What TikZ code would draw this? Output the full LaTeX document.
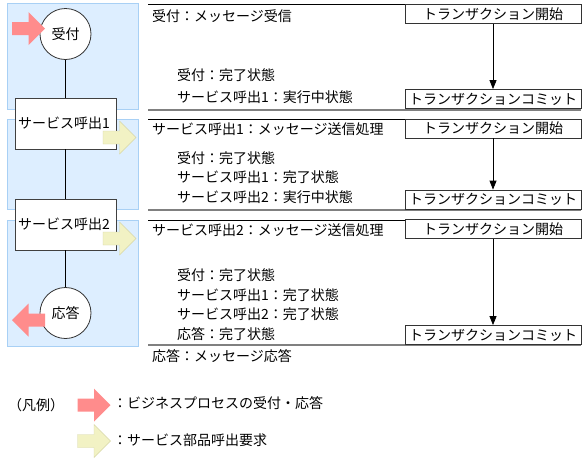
\documentclass[tikz,border=0pt]{standalone}
\usepackage{fontspec}
\setmainfont{Noto Sans CJK JP}
\usetikzlibrary{arrows.meta, positioning}
\definecolor{panelfill}{HTML}{DDEEFF}
\definecolor{paneldraw}{HTML}{A8D0F5}
\definecolor{bizred}{HTML}{FF8C8C}
\definecolor{svcyellow}{HTML}{F2F2C4}
\definecolor{svcedge}{HTML}{D6D6A6}
\definecolor{rulegray}{HTML}{808080}
\tikzset{
  panel/.style={draw=paneldraw, fill=panelfill, line width=0.8pt},
  endpt/.style={circle, draw=black!80, fill=white, line width=0.8pt,
                minimum size=51pt, inner sep=0pt},
  svcbox/.style={rectangle, draw=black!75, fill=white, line width=0.8pt,
                 minimum width=101pt, minimum height=51pt, text width=95pt,
                 align=left, inner sep=3pt},
  txbox/.style={rectangle, draw=black!80, fill=white, line width=0.8pt,
                minimum width=176pt, minimum height=19pt, inner sep=0pt},
  stat/.style={anchor=west, inner sep=0pt},
  toprule/.style={line width=0.8pt},
  botrule/.style={draw=rulegray, line width=2pt},
  arr/.style={-{Triangle[length=9pt, width=7pt]}, line width=0.8pt},
  barrow/.pic={\path[pic actions] (-16.5,-6.5) -- (0,-6.5) -- (0,-16.5)
               -- (16.5,0) -- (0,16.5) -- (0,6.5) -- (-16.5,6.5) -- cycle;},
}

\begin{document}
\begin{tikzpicture}[x=1pt, y=-1pt, every node/.style={font=\fontsize{14}{16}\selectfont}]
  \useasboundingbox (0,0) rectangle (585,461);

  % Panels
  \draw[panel] (7,3) rectangle (138,109);
  \draw[panel] (7,119) rectangle (138,209);
  \draw[panel] (7,220) rectangle (138,346);

  % Table rules
  \draw[toprule] (148,4) -- (581,4);
  \draw[botrule] (148,109.5) -- (581,109.5);
  \draw[toprule] (148,119) -- (581,119);
  \draw[botrule] (148,210) -- (581,210);
  \draw[toprule] (148,220) -- (581,220);
  \draw[botrule] (148,345) -- (581,345);

  % Process flow
  \node[endpt] (recv) at (65.5,34) {受付};
  \node[svcbox] (svc1) at (65.5,123.5) {サービス呼出1};
  \node[svcbox] (svc2) at (65.5,224.5) {サービス呼出2};
  \node[endpt] (resp) at (65.5,313) {応答};

  \draw[line width=0.8pt] (recv) -- (svc1);
  \draw[line width=0.8pt] (svc1) -- (svc2);
  \draw[line width=0.8pt] (svc2) -- (resp);

  % Row 1
  \node[stat] (r1msg) at (152,16) {受付：メッセージ受信};
  \node[stat] (r1a) at (177,75) {受付：完了状態};
  \node[stat] (r1b) at (177,97) {サービス呼出1：実行中状態};
  \node[txbox] (beg1) at (493,14) {トランザクション開始};
  \node[txbox] (com1) at (493,99) {トランザクションコミット};

  % Row 2
  \node[stat] (r2msg) at (152,129) {サービス呼出1：メッセージ送信処理};
  \node[stat] (r2a) at (177,158) {受付：完了状態};
  \node[stat] (r2b) at (177,177) {サービス呼出1：完了状態};
  \node[stat] (r2c) at (177,197) {サービス呼出2：実行中状態};
  \node[txbox] (beg2) at (493,128.5) {トランザクション開始};
  \node[txbox] (com2) at (493,199.5) {トランザクションコミット};

  % Row 3
  \node[stat] (r3msg) at (152,230) {サービス呼出2：メッセージ送信処理};
  \node[stat] (r3a) at (177,275) {受付：完了状態};
  \node[stat] (r3b) at (177,295) {サービス呼出1：完了状態};
  \node[stat] (r3c) at (177,314) {サービス呼出2：完了状態};
  \node[stat] (r3d) at (177,334) {応答：完了状態};
  \node[txbox] (beg3) at (493,229) {トランザクション開始};
  \node[txbox] (com3) at (493,335) {トランザクションコミット};
  \node[stat] (r3out) at (152,356) {応答：メッセージ応答};

  % Arrows
  \draw[arr] (beg1) -- (com1);
  \draw[arr] (beg2) -- (com2);
  \draw[arr] (beg3) -- (com3);

  % Block arrows
  \pic[fill=bizred] (inarr) at (28.5,28.5) {barrow};
  \pic[fill=bizred, rotate=180] (outarr) at (28.5,320) {barrow};
  \pic[fill=svcyellow, draw=svcedge] (req1) at (119.5,137.5) {barrow};
  \pic[fill=svcyellow, draw=svcedge] (req2) at (119.5,238.5) {barrow};

  % Legend
  \node[stat] (leg) at (8,405) {（凡例）};
  \pic[fill=bizred] (legred) at (94,405) {barrow};
  \node[stat] (legredtxt) at (113,403) {：ビジネスプロセスの受付・応答};
  \pic[fill=svcyellow, draw=svcedge] (legyel) at (94,441) {barrow};
  \node[stat] (legyeltxt) at (113,440) {：サービス部品呼出要求};
\end{tikzpicture}
\end{document}
